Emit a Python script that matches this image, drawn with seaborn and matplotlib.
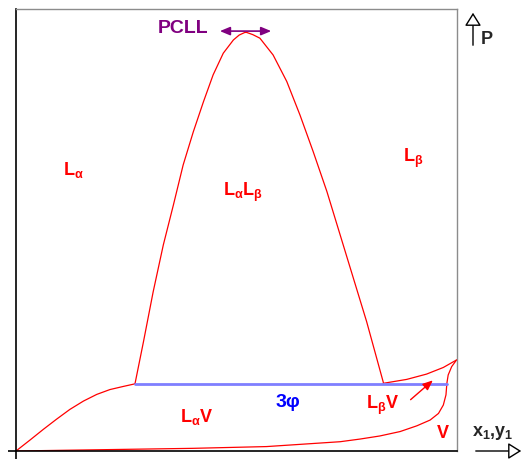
import numpy as np
import pandas as pd
import matplotlib.pyplot as plt
import seaborn as sns

# phase boundaries (x1/y1 fraction, scaled pressure)
dome_x = [0.270, 0.289, 0.311, 0.334, 0.357, 0.379, 0.402, 0.425, 0.447, 0.470,
          0.493, 0.506, 0.519, 0.523, 0.537, 0.553, 0.583, 0.614, 0.644, 0.674,
          0.705, 0.735, 0.765, 0.795, 0.833]
dome_p = [0.153, 0.247, 0.360, 0.466, 0.557, 0.647, 0.722, 0.790, 0.851, 0.900,
          0.930, 0.941, 0.947, 0.947, 0.942, 0.934, 0.896, 0.836, 0.760, 0.677,
          0.587, 0.489, 0.391, 0.293, 0.155]

lav_x = [0.0, 0.032, 0.062, 0.092, 0.122, 0.153, 0.183, 0.213, 0.243, 0.270]
lav_p = [0.0, 0.025, 0.049, 0.072, 0.094, 0.113, 0.128, 0.139, 0.146, 0.152]

dew_x = [0.0, 0.266, 0.400, 0.568, 0.735, 0.780, 0.825, 0.871, 0.909, 0.939,
         0.958, 0.969, 0.975, 0.977, 0.980, 0.988, 0.999]
dew_p = [0.0, 0.004, 0.006, 0.010, 0.021, 0.027, 0.034, 0.044, 0.057, 0.070,
         0.085, 0.104, 0.127, 0.153, 0.172, 0.191, 0.206]

lbv_x = [0.832, 0.886, 0.931, 0.969, 0.999]
lbv_p = [0.153, 0.162, 0.174, 0.189, 0.206]

three_x = [0.270, 0.977]
three_p = [0.152, 0.152]

labels = ["$\\mathbf{L_{α}}$", "$\\mathbf{L_{β}}$", "$\\mathbf{L_{α}L_{β}}$",
          "$\\mathbf{L_{α}V}$", "$\\mathbf{L_{β}V}$", "V"]
label_x = [0.13, 0.90, 0.515, 0.41, 0.832, 0.968]
label_p = [0.636, 0.663, 0.586, 0.077, 0.104, 0.040]

sns.set_style("white")
plt.rcParams['font.family'] = ['Liberation Sans', 'DejaVu Sans']
plt.rcParams['mathtext.fontset'] = 'custom'
plt.rcParams['mathtext.bf'] = 'Liberation Sans:bold'
plt.rcParams['mathtext.rm'] = 'Liberation Sans:bold'

fig = plt.figure(figsize=(5.23, 4.59), dpi=100)
ax = fig.add_axes([16 / 523, 8 / 459, 441 / 523, 442 / 459])

red = '#ff0000'
for xs, ps in [(dome_x, dome_p), (lav_x, lav_p), (dew_x, dew_p), (lbv_x, lbv_p)]:
    df = pd.DataFrame({'x': xs, 'p': ps})
    sns.lineplot(data=df, x='x', y='p', sort=False, color=red, lw=0.9, ax=ax)
sns.lineplot(x=three_x, y=three_p, color='#7f7fff', lw=2, ax=ax)

for t, x, y in zip(labels, label_x, label_p):
    ax.text(x, y, t, color=red, fontsize=13, fontweight='bold', ha='center', va='center')
ax.text(0.617, 0.109, '3φ', color='#0000ff', fontsize=14, fontweight='bold',
        ha='center', va='center')
ax.text(0.379, 0.956, 'PCLL', color='#800080', fontsize=14, fontweight='bold',
        ha='center', va='center')
ax.annotate('', xy=(0.456, 0.95), xytext=(0.585, 0.95),
            arrowprops=dict(arrowstyle='<|-|>,head_width=0.25,head_length=0.6',
                            color='#800080', lw=1.2))
ax.annotate('', xy=(0.950, 0.164), xytext=(0.890, 0.112),
            arrowprops=dict(arrowstyle='-|>,head_width=0.25,head_length=0.6',
                            color=red, lw=1))

ax.set_xlim(0, 1)
ax.set_ylim(0, 1)
ax.set_xlabel('')
ax.set_ylabel('')
ax.set_xticks([0])
ax.set_yticks([0])
ax.set_xticklabels([])
ax.set_yticklabels([])
ax.tick_params(direction='out', length=6, width=1.2, colors='black', bottom=True, left=True)
for s in ['top', 'right']:
    ax.spines[s].set_color('#8c8c8c')
    ax.spines[s].set_linewidth(1)
for s in ['left', 'bottom']:
    ax.spines[s].set_color('black')
    ax.spines[s].set_linewidth(1.2)

# outer axis arrows (figure pixel coords)
def fp(px, py):
    return (px / 523, 1 - py / 459)

fig.patches.append(plt.matplotlib.patches.FancyArrowPatch(
    fp(473, 48), fp(473, 10), transform=fig.transFigure,
    arrowstyle='-|>,head_width=5,head_length=8', mutation_scale=1,
    fc='white', ec='black', lw=1))
fig.patches.append(plt.matplotlib.patches.FancyArrowPatch(
    fp(473, 451), fp(524, 451), transform=fig.transFigure,
    arrowstyle='-|>,head_width=5,head_length=8', mutation_scale=1,
    fc='white', ec='black', lw=1))
fig.text(*fp(487, 39), 'P', fontsize=13, fontweight='bold', ha='center', va='center')
fig.text(*fp(493, 433), '$\\mathbf{x_1{,}y_1}$', fontsize=13, ha='center', va='center')

fig.savefig('out.png', dpi=100)
